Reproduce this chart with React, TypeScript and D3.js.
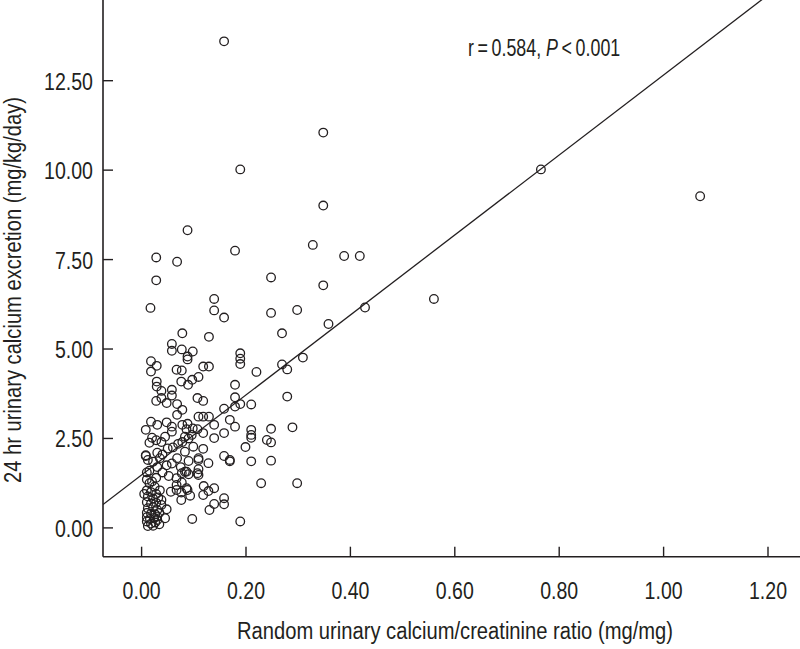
import React from "react";
import * as d3 from "d3";

const xTicks = [0, 0.2, 0.4, 0.6, 0.8, 1.0, 1.2];
const yTicks = [0, 2.5, 5, 7.5, 10, 12.5];
const xTitle = "Random urinary calcium/creatinine ratio (mg/mg)";
const yTitle = "24 hr urinary calcium excretion (mg/kg/day)";
const statR = "r\u2009=\u20090.584, ";
const statP = "P";
const statPValue = "\u2009<\u20090.001";
const fitIntercept = 1.48;
const fitSlope = 11.18;

const ratioValues: number[] = [
  0.158, 0.348, 0.189, 0.765, 1.07, 0.348, 0.088, 0.328, 0.179, 0.028, 0.068, 0.388, 0.418, 0.028, 0.248, 0.348, 0.56, 0.139, 0.017, 0.139,
  0.248, 0.298, 0.428, 0.158, 0.358, 0.269, 0.078, 0.129, 0.058, 0.058, 0.077, 0.098, 0.088, 0.088, 0.189, 0.189, 0.189, 0.309, 0.269, 0.279,
  0.22, 0.018, 0.029, 0.018, 0.067, 0.077, 0.118, 0.129, 0.076, 0.089, 0.097, 0.109, 0.179, 0.029, 0.029, 0.038, 0.058, 0.058, 0.038, 0.028,
  0.048, 0.068, 0.107, 0.118, 0.179, 0.179, 0.189, 0.21, 0.279, 0.078, 0.158, 0.068, 0.169, 0.179, 0.21, 0.21, 0.21, 0.248, 0.289, 0.24,
  0.248, 0.199, 0.169, 0.21, 0.248, 0.229, 0.298, 0.189,
  0.018, 0.03, 0.008, 0.048, 0.058, 0.058, 0.078, 0.088, 0.109, 0.118, 0.129, 0.086, 0.098, 0.107, 0.118, 0.139, 0.139, 0.158,
  0.02, 0.028, 0.038, 0.015, 0.045, 0.008, 0.03, 0.04, 0.05, 0.06, 0.07, 0.078, 0.09, 0.096, 0.083,
  0.099, 0.118, 0.083, 0.109, 0.09, 0.109, 0.128, 0.158, 0.169,
  0.083, 0.09, 0.109, 0.109, 0.107, 0.086, 0.077, 0.067, 0.077,
  0.048, 0.058, 0.068, 0.075, 0.04, 0.052, 0.03, 0.022, 0.035, 0.015, 0.008, 0.01, 0.012,
  0.086, 0.093, 0.119, 0.128, 0.139, 0.118, 0.13, 0.139, 0.158, 0.158, 0.097,
  0.045, 0.048, 0.038, 0.038, 0.056, 0.067, 0.067, 0.076, 0.088, 0.076,
  0.01, 0.015, 0.02, 0.025, 0.01, 0.018, 0.028, 0.012, 0.022, 0.032, 0.01, 0.018, 0.028, 0.012, 0.022, 0.03, 0.01, 0.018, 0.026, 0.034,
  0.01, 0.016, 0.024, 0.03, 0.01, 0.018, 0.026, 0.034, 0.012, 0.022, 0.03, 0.035, 0.028, 0.005,
];

const excretionValues: number[] = [
  13.6, 11.05, 10.02, 10.02, 9.27, 9.01, 8.32, 7.91, 7.75, 7.56, 7.44, 7.6, 7.6, 6.92, 7.0, 6.78, 6.4, 6.4, 6.15, 6.08,
  6.01, 6.09, 6.16, 5.88, 5.7, 5.44, 5.44, 5.34, 5.14, 4.95, 4.99, 4.93, 4.79, 4.71, 4.88, 4.73, 4.58, 4.76, 4.57, 4.43,
  4.36, 4.66, 4.53, 4.37, 4.42, 4.4, 4.51, 4.51, 4.09, 4.0, 4.14, 4.22, 4.0, 4.09, 3.95, 3.83, 3.86, 3.7, 3.63, 3.55,
  3.49, 3.46, 3.63, 3.55, 3.65, 3.39, 3.46, 3.45, 3.67, 3.3, 3.33, 3.16, 3.02, 2.83, 2.74, 2.6, 2.52, 2.77, 2.81, 2.46,
  2.39, 2.26, 1.86, 1.86, 1.88, 1.25, 1.25, 0.18,
  2.97, 2.88, 2.74, 2.95, 2.83, 2.69, 2.88, 2.91, 3.11, 3.11, 3.11, 2.76, 2.78, 2.76, 2.65, 2.88, 2.51, 2.65,
  2.52, 2.45, 2.4, 2.38, 2.55, 2.03, 2.1, 2.05, 2.22, 2.25, 2.35, 2.4, 2.5, 2.6, 2.55,
  2.27, 2.21, 2.13, 1.95, 1.87, 1.9, 1.81, 2.01, 1.9,
  1.57, 1.5, 1.64, 1.48, 1.53, 1.57, 1.53, 1.39, 1.27,
  1.75, 1.8, 1.95, 1.7, 1.55, 1.45, 1.7, 1.85, 1.95, 1.6, 2.01, 1.55, 1.9,
  1.11, 0.9, 1.17, 1.03, 1.11, 0.92, 0.5, 0.67, 0.83, 0.66, 0.25,
  0.27, 0.52, 0.78, 0.64, 1.01, 1.2, 1.06, 0.99, 1.06, 0.78,
  1.35, 1.25, 1.3, 1.15, 1.05, 1.0, 0.95, 0.88, 0.82, 0.85, 0.72, 0.68, 0.7, 0.55, 0.58, 0.5, 0.42, 0.4, 0.38, 0.42,
  0.3, 0.25, 0.28, 0.22, 0.18, 0.12, 0.15, 0.1, 0.05, 0.06, 0.32, 1.05, 1.4, 0.95,
];

const W = 800;
const H = 649;
const FONT = "'Liberation Sans', Arial, sans-serif";
const INK = "#231f20";

function labelWidth(s: string) {
  const digits = s.replace(/[^0-9]/g, "").length;
  return digits * 11 + 5;
}

export default function App() {
  const axisX = 103;
  const axisY = 556.7;
  const x = d3.scaleLinear().domain([0, 1.2]).range([141.6, 768]);
  const y = d3.scaleLinear().domain([0, 12.5]).range([527.9, 80.7]);

  const pts = ratioValues.map((v, i) => [v, excretionValues[i]] as [number, number]);

  const x0 = x.invert(axisX);
  const x1 = x.invert(W);
  const line = d3
    .line<number>()
    .x((d) => x(d))
    .y((d) => y(fitIntercept + fitSlope * d));
  const fmt = d3.format(".2f");

  return (
    <svg
      width={W}
      height={H}
      style={{ position: "absolute", left: 0, top: 0, background: "#fff" }}
      fontFamily={FONT}
    >
      <defs>
        <clipPath id="plotclip">
          <rect x={axisX} y={0} width={W - axisX} height={axisY} />
        </clipPath>
      </defs>
      <rect x={0} y={0} width={W} height={H} fill="#fff" />

      <path
        d={line([x0, x1]) || ""}
        fill="none"
        stroke={INK}
        strokeWidth={1.3}
        clipPath="url(#plotclip)"
      />

      <g clipPath="url(#plotclip)">
        {pts.map((p, i) => (
          <circle
            key={i}
            cx={x(p[0])}
            cy={y(p[1])}
            r={4.3}
            fill="none"
            stroke={INK}
            strokeWidth={1.3}
          />
        ))}
      </g>

      <line x1={axisX} y1={0} x2={axisX} y2={axisY} stroke={INK} strokeWidth={1.6} />
      <line x1={axisX} y1={axisY} x2={W} y2={axisY} stroke={INK} strokeWidth={1.6} />

      {yTicks.map((t) => {
        const s = fmt(t);
        const w = labelWidth(s);
        return (
          <g key={"y" + t}>
            <line x1={axisX} x2={axisX + 10} y1={y(t)} y2={y(t)} stroke={INK} strokeWidth={1.4} />
            <text
              x={93 - w}
              y={y(t) + 9}
              fontSize={24.5}
              fill={INK}
              textLength={w}
              lengthAdjust="spacingAndGlyphs"
            >
              {s}
            </text>
          </g>
        );
      })}

      {xTicks.map((t) => {
        const s = fmt(t);
        const w = labelWidth(s);
        return (
          <g key={"x" + t}>
            <line x1={x(t)} x2={x(t)} y1={axisY} y2={axisY - 10} stroke={INK} strokeWidth={1.4} />
            <text
              x={x(t) - w / 2}
              y={599}
              fontSize={24.5}
              fill={INK}
              textLength={w}
              lengthAdjust="spacingAndGlyphs"
            >
              {s}
            </text>
          </g>
        );
      })}

      <text
        x={237}
        y={639}
        fontSize={23}
        fill={INK}
        textLength={436}
        lengthAdjust="spacingAndGlyphs"
      >
        {xTitle}
      </text>
      <text
        transform={`translate(21, 483) rotate(-90)`}
        fontSize={23}
        fill={INK}
        textLength={386}
        lengthAdjust="spacingAndGlyphs"
      >
        {yTitle}
      </text>

      <g transform="translate(468, 56) scale(0.76, 1)">
        <text x={0} y={0} fontSize={23.5} fill={INK}>
          {statR}
          <tspan fontStyle="italic">{statP}</tspan>
          {statPValue}
        </text>
      </g>
    </svg>
  );
}
